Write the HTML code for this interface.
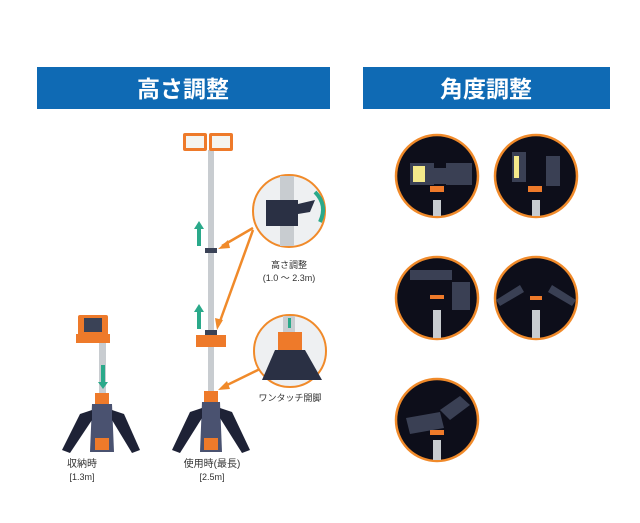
<!DOCTYPE html>
<html><head><meta charset="utf-8"><style>
body{margin:0;background:#fff;width:640px;height:518px;overflow:hidden;font-family:"Liberation Sans","Noto Sans CJK JP",sans-serif}
</style></head><body>
<svg width="640" height="518" viewBox="0 0 640 518" xmlns="http://www.w3.org/2000/svg" font-family="Liberation Sans, Noto Sans CJK JP, sans-serif">
<rect x="37" y="67" width="293" height="42" fill="#0f6ab4"/>
<text x="183" y="97" font-size="23" font-weight="bold" fill="#fff" text-anchor="middle">高さ調整</text>
<rect x="363" y="67" width="247" height="42" fill="#0f6ab4"/>
<text x="486" y="97" font-size="23" font-weight="bold" fill="#fff" text-anchor="middle">角度調整</text>
<!-- left stand -->
<rect x="99" y="340" width="7" height="60" fill="#c8ccd0"/>
<rect x="78" y="315" width="30" height="22" fill="#ee7a2a" rx="2"/>
<rect x="84" y="318" width="18" height="14" fill="#3a4256"/>
<rect x="76" y="334" width="34" height="9" fill="#ee7a2a"/>
<rect x="95" y="393" width="14" height="11" fill="#ee7a2a"/>
<polygon points="92,404 112,404 114,452 90,452" fill="#4a5270"/>
<polygon points="92,410 80,414 62,450 70,453 92,420" fill="#1e2236"/>
<polygon points="112,410 124,414 140,450 132,453 112,420" fill="#1e2236"/>
<rect x="95" y="438" width="14" height="12" fill="#ee7a2a"/>
<rect x="101" y="365" width="4" height="18" fill="#2aa98a"/>
<polygon points="98,382 108,382 103,389" fill="#2aa98a"/>
<!-- right stand -->
<rect x="208" y="150" width="6" height="245" fill="#c8ccd0"/>
<rect x="183" y="133" width="24" height="18" fill="#ee7a2a" rx="2"/>
<rect x="186" y="136" width="18" height="12" fill="#f4f4f0"/>
<rect x="209" y="133" width="24" height="18" fill="#ee7a2a" rx="2"/>
<rect x="212" y="136" width="18" height="12" fill="#f4f4f0"/>
<rect x="205" y="248" width="12" height="5" fill="#3a4256"/>
<rect x="205" y="330" width="12" height="5" fill="#3a4256"/>
<rect x="196" y="335" width="30" height="12" fill="#ee7a2a"/>
<rect x="204" y="391" width="14" height="11" fill="#ee7a2a"/>
<polygon points="202,402 220,402 222,452 200,452" fill="#4a5270"/>
<polygon points="202,408 190,412 172,450 180,453 202,418" fill="#1e2236"/>
<polygon points="220,408 232,412 250,450 242,453 220,418" fill="#1e2236"/>
<rect x="204" y="438" width="14" height="12" fill="#ee7a2a"/>
<rect x="197" y="228" width="4" height="18" fill="#2aa98a"/><polygon points="194,229 204,229 199,221" fill="#2aa98a"/>
<rect x="197" y="311" width="4" height="18" fill="#2aa98a"/><polygon points="194,312 204,312 199,304" fill="#2aa98a"/>
<!-- arrows -->
<g stroke="#f08a2a" stroke-width="2.5" fill="#f08a2a">
<line x1="253" y1="228" x2="222" y2="246"/><polygon points="218,249 228,240 230,248" stroke="none"/>
<line x1="253" y1="230" x2="219" y2="324"/><polygon points="217,330 215,318 223,320" stroke="none"/>
<line x1="262" y1="368" x2="223" y2="387"/><polygon points="218,390 227,381 230,389" stroke="none"/>
</g>
<!-- magnifier circles -->
<circle cx="289" cy="211" r="36" fill="#eef0f2" stroke="#f08a2a" stroke-width="2"/>
<rect x="280" y="176" width="14" height="70" fill="#c8ccd0"/>
<rect x="266" y="200" width="32" height="26" fill="#2a3044"/>
<polygon points="298,204 315,200 310,212 298,214" fill="#2a3044"/>
<path d="M315 192 Q328 205 320 222" stroke="#2aa98a" stroke-width="4" fill="none"/>
<circle cx="290" cy="351" r="36" fill="#eef0f2" stroke="#f08a2a" stroke-width="2"/>
<rect x="283" y="316" width="12" height="20" fill="#c8ccd0"/>
<rect x="278" y="332" width="24" height="18" fill="#ee7a2a"/>
<polygon points="275,350 305,350 322,380 262,380" fill="#2a3044"/>
<rect x="288" y="318" width="3" height="10" fill="#2aa98a"/>
<text x="289" y="268" font-size="9" fill="#333" text-anchor="middle">高さ調整</text>
<text x="289" y="281" font-size="9" fill="#333" text-anchor="middle">(1.0 〜 2.3m)</text>
<text x="290" y="401" font-size="9" fill="#333" text-anchor="middle">ワンタッチ開脚</text>
<text x="82" y="467" font-size="10" fill="#333" text-anchor="middle">収納時</text>
<text x="82" y="480" font-size="9" fill="#333" text-anchor="middle">[1.3m]</text>
<text x="212" y="467" font-size="10" fill="#333" text-anchor="middle">使用時(最長)</text>
<text x="212" y="480" font-size="9" fill="#333" text-anchor="middle">[2.5m]</text>
<!-- angle circles -->
<g stroke="#f08a2a" stroke-width="2.5" fill="#0d0e1a">
<circle cx="437" cy="176" r="41"/><circle cx="536" cy="176" r="41"/>
<circle cx="437" cy="298" r="41"/><circle cx="536" cy="298" r="41"/>
<circle cx="437" cy="420" r="41"/>
</g>
<g fill="#c8ccd0"><rect x="433" y="200" width="8" height="16"/><rect x="532" y="200" width="8" height="16"/><rect x="433" y="310" width="8" height="28"/><rect x="532" y="310" width="8" height="28"/><rect x="433" y="440" width="8" height="20"/></g>
<g fill="#3a4054">
<rect x="410" y="163" width="24" height="22"/><rect x="446" y="163" width="26" height="22"/><rect x="430" y="168" width="18" height="16"/>
<rect x="512" y="152" width="14" height="30"/><rect x="546" y="156" width="14" height="30"/>
<rect x="410" y="270" width="42" height="10"/><rect x="452" y="282" width="18" height="28"/>
<polygon points="496,300 520,285 524,292 500,306"/><polygon points="552,285 576,300 572,306 548,292"/>
<polygon points="406,418 440,412 444,428 410,434"/><polygon points="440,410 460,396 470,405 450,420"/>
</g>
<g fill="#f4e98a"><rect x="413" y="166" width="12" height="16"/><rect x="514" y="156" width="5" height="22"/></g>
<g fill="#ee7a2a"><rect x="430" y="186" width="14" height="6"/><rect x="528" y="186" width="14" height="6"/><rect x="430" y="295" width="14" height="4"/><rect x="530" y="296" width="12" height="4"/><rect x="430" y="430" width="14" height="5"/></g>
</svg>
</body></html>
